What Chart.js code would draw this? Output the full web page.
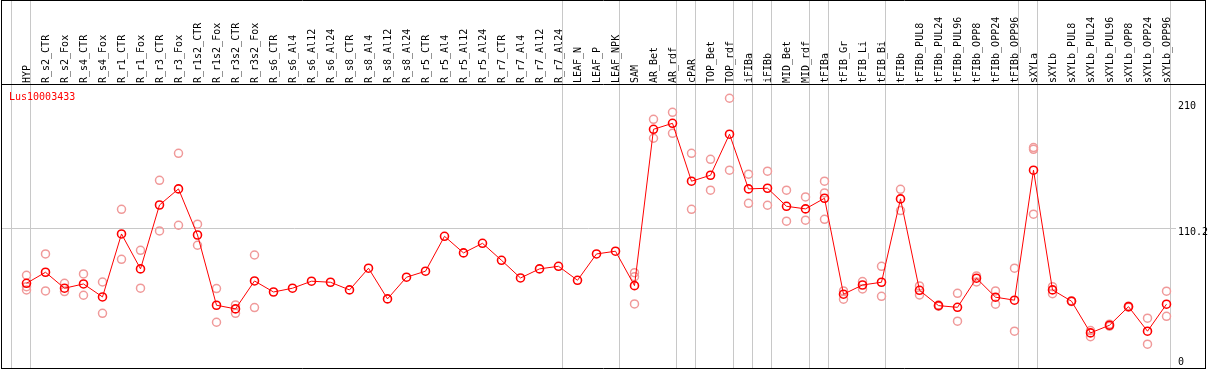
<!DOCTYPE html>
<html><head><meta charset="utf-8">
<script src="https://cdn.jsdelivr.net/npm/chart.js@4.4.1/dist/chart.umd.min.js"></script>
<style>html,body{margin:0;padding:0;background:#fff;overflow:hidden}#wrap{width:1209px;height:370px;position:relative}</style>
</head><body><div id="wrap"><canvas id="c" width="1209" height="370"></canvas></div>
<script>
const categories = ['HYP','R_s2_CTR','R_s2_Fox','R_s4_CTR','R_s4_Fox','R_r1_CTR','R_r1_Fox','R_r3_CTR','R_r3_Fox','R_r1s2_CTR','R_r1s2_Fox','R_r3s2_CTR','R_r3s2_Fox','R_s6_CTR','R_s6_Al4','R_s6_Al12','R_s6_Al24','R_s8_CTR','R_s8_Al4','R_s8_Al12','R_s8_Al24','R_r5_CTR','R_r5_Al4','R_r5_Al12','R_r5_Al24','R_r7_CTR','R_r7_Al4','R_r7_Al12','R_r7_Al24','LEAF_N','LEAF_P','LEAF_NPK','SAM','AR_Bet','AR_rdf','cPAR','TOP_Bet','TOP_rdf','iFIBa','iFIBb','MID_Bet','MID_rdf','tFIBa','tFIB_Gr','tFIB_Li','tFIB_Bi','tFIBb','tFIBb_PUL8','tFIBb_PUL24','tFIBb_PUL96','tFIBb_OPP8','tFIBb_OPP24','tFIBb_OPP96','sXYLa','sXYLb','sXYLb_PUL8','sXYLb_PUL24','sXYLb_PUL96','sXYLb_OPP8','sXYLb_OPP24','sXYLb_OPP96'];

const meanValues = [67.8,76.3,64.0,67.3,57.3,105.8,78.9,128.1,140.5,105.0,50.9,48.1,69.6,61.1,64.0,69.4,68.6,62.7,79.4,55.8,72.5,77.1,104.0,91.2,98.6,85.5,71.9,78.9,80.9,70.1,90.4,92.5,66.0,186.4,191.0,146.4,151.0,182.6,140.5,141.0,127.1,125.1,133.3,59.4,66.5,68.6,132.8,62.4,50.6,49.3,71.7,57.1,54.8,154.9,62.7,54.0,29.6,35.5,49.8,30.9,51.7];

const replicate1 = [74.0,90.4,67.8,75.0,68.8,124.8,93.2,147.1,167.9,113.3,63.7,51.1,89.6,null,null,null,null,null,null,null,null,null,null,null,null,null,null,null,null,null,null,null,76.0,194.1,199.5,167.9,163.3,210.3,151.8,154.1,139.5,134.3,146.4,61.9,69.1,80.9,140.2,65.8,51.0,60.1,73.5,61.9,79.4,172.3,65.2,54.3,31.4,36.3,50.2,40.9,61.7];

const replicate2 = [65.2,61.9,61.4,58.6,44.7,86.3,64.0,108.1,112.5,97.1,37.8,44.7,49.1,null,null,null,null,null,null,null,null,null,null,null,null,null,null,null,null,null,null,null,72.9,179.5,183.3,124.8,139.5,154.9,129.4,127.9,115.6,116.4,137.4,55.5,63.5,57.8,123.8,58.8,50.2,38.6,68.8,51.7,30.9,171.0,59.8,53.7,26.7,34.8,49.4,20.9,42.4];

const replicate3 = [62.7,null,null,null,null,null,null,null,null,null,null,null,null,null,null,null,null,null,null,null,null,null,null,null,null,null,null,null,null,null,null,null,51.9,null,null,null,null,null,null,null,null,null,117.1,null,null,null,null,null,null,null,null,null,null,121.0,null,null,null,null,null,null,null];

const geneName = 'Lus10003433';
const yTickValues = [0, 110.2, 210];
const yTickLabels = ['0', '110.2', '210'];
const yGridValues = [110.2];
const groupEnds = [-1, 0, 28, 31, 34, 35, 37, 38, 39, 41, 42, 45, 52, 53, 60];

const FONT = "'DejaVu Sans Mono', monospace";
Chart.defaults.font.family = FONT;
Chart.defaults.font.size = 10;
Chart.defaults.color = '#000';

const framePlugin = {
  id: 'frame',
  beforeDraw(chart) {
    const {ctx, chartArea: a, scales: {x, y}} = chart;
    ctx.save();
    ctx.lineWidth = 1;
    ctx.strokeStyle = '#c8c8c8';
    const x0 = x.getPixelForValue(0), sp = x.getPixelForValue(1) - x0;
    groupEnds.forEach(i => {
      const px = Math.round(x0 + (i + 0.21) * sp) + 0.5;
      ctx.beginPath(); ctx.moveTo(px, 0); ctx.lineTo(px, a.bottom); ctx.stroke();
    });
    yGridValues.forEach(v => {
      const py = Math.round(y.getPixelForValue(v)) + 0.5;
      ctx.beginPath(); ctx.moveTo(1, py); ctx.lineTo(a.right, py); ctx.stroke();
    });
    ctx.strokeStyle = '#000';
    const bottom = Math.round(a.bottom) - 0.5;
    ctx.beginPath();
    ctx.moveTo(1.5, 0.5); ctx.lineTo(1205.5, 0.5);
    ctx.moveTo(1.5, 0); ctx.lineTo(1.5, bottom);
    ctx.moveTo(1205.5, 0); ctx.lineTo(1205.5, bottom);
    ctx.moveTo(1, bottom); ctx.lineTo(1206, bottom);
    ctx.moveTo(1, Math.round(a.top) - 0.5); ctx.lineTo(1206, Math.round(a.top) - 0.5);
    ctx.stroke();
    ctx.restore();
  },
  afterDraw(chart) {
    const {ctx, chartArea: a, scales: {y}} = chart;
    ctx.save();
    ctx.font = '10px ' + FONT;
    ctx.textBaseline = 'middle';
    ctx.textAlign = 'left';
    ctx.fillStyle = '#000';
    yTickValues.forEach((v, k) => {
      let py = y.getPixelForValue(v) + 4;
      py = Math.min(Math.max(py, a.top + 21), a.bottom - 7);
      ctx.fillText(yTickLabels[k], a.right + 2, py);
    });
    ctx.fillStyle = '#ff0000';
    ctx.fillText(geneName, 9, a.top + 12);
    ctx.restore();
  }
};

const repStyle = {
  type: 'line', showLine: false, pointRadius: 4, pointHoverRadius: 4,
  pointBorderColor: '#f09a9a', pointBackgroundColor: 'rgba(0,0,0,0)',
  pointBorderWidth: 1.5, borderColor: '#f09a9a', order: 1
};

new Chart(document.getElementById('c'), {
  type: 'line',
  data: {
    labels: categories,
    datasets: [
      {label: geneName, data: meanValues, borderColor: '#ff0000', borderWidth: 1, tension: 0,
       pointRadius: 4, pointHoverRadius: 4, pointBorderColor: '#ff0000', pointBorderWidth: 1.6,
       pointBackgroundColor: 'rgba(0,0,0,0)', order: 0},
      Object.assign({label: 'rep1', data: replicate1}, repStyle),
      Object.assign({label: 'rep2', data: replicate2}, repStyle),
      Object.assign({label: 'rep3', data: replicate3}, repStyle)
    ]
  },
  options: {
    responsive: false, animation: false, devicePixelRatio: 1,
    layout: {autoPadding: false, padding: {left: 17, right: 0, top: 0, bottom: 1}},
    plugins: {legend: {display: false}, tooltip: {enabled: false}},
    scales: {
      x: {
        type: 'category', position: 'top', offset: true,
        grid: {display: false, drawTicks: false}, border: {display: false},
        ticks: {autoSkip: false, minRotation: 90, maxRotation: 90, padding: 2, labelOffset: 13, color: '#000', font: {family: FONT, size: 10}},
        afterFit(s) { s.height = 85; }
      },
      y: {
        position: 'right', min: 1.8, max: 220.5,
        grid: {display: false, drawTicks: false}, border: {display: false},
        ticks: {display: false},
        afterFit(s) { s.width = 33; }
      }
    }
  },
  plugins: [framePlugin]
});
</script>
</body></html>
